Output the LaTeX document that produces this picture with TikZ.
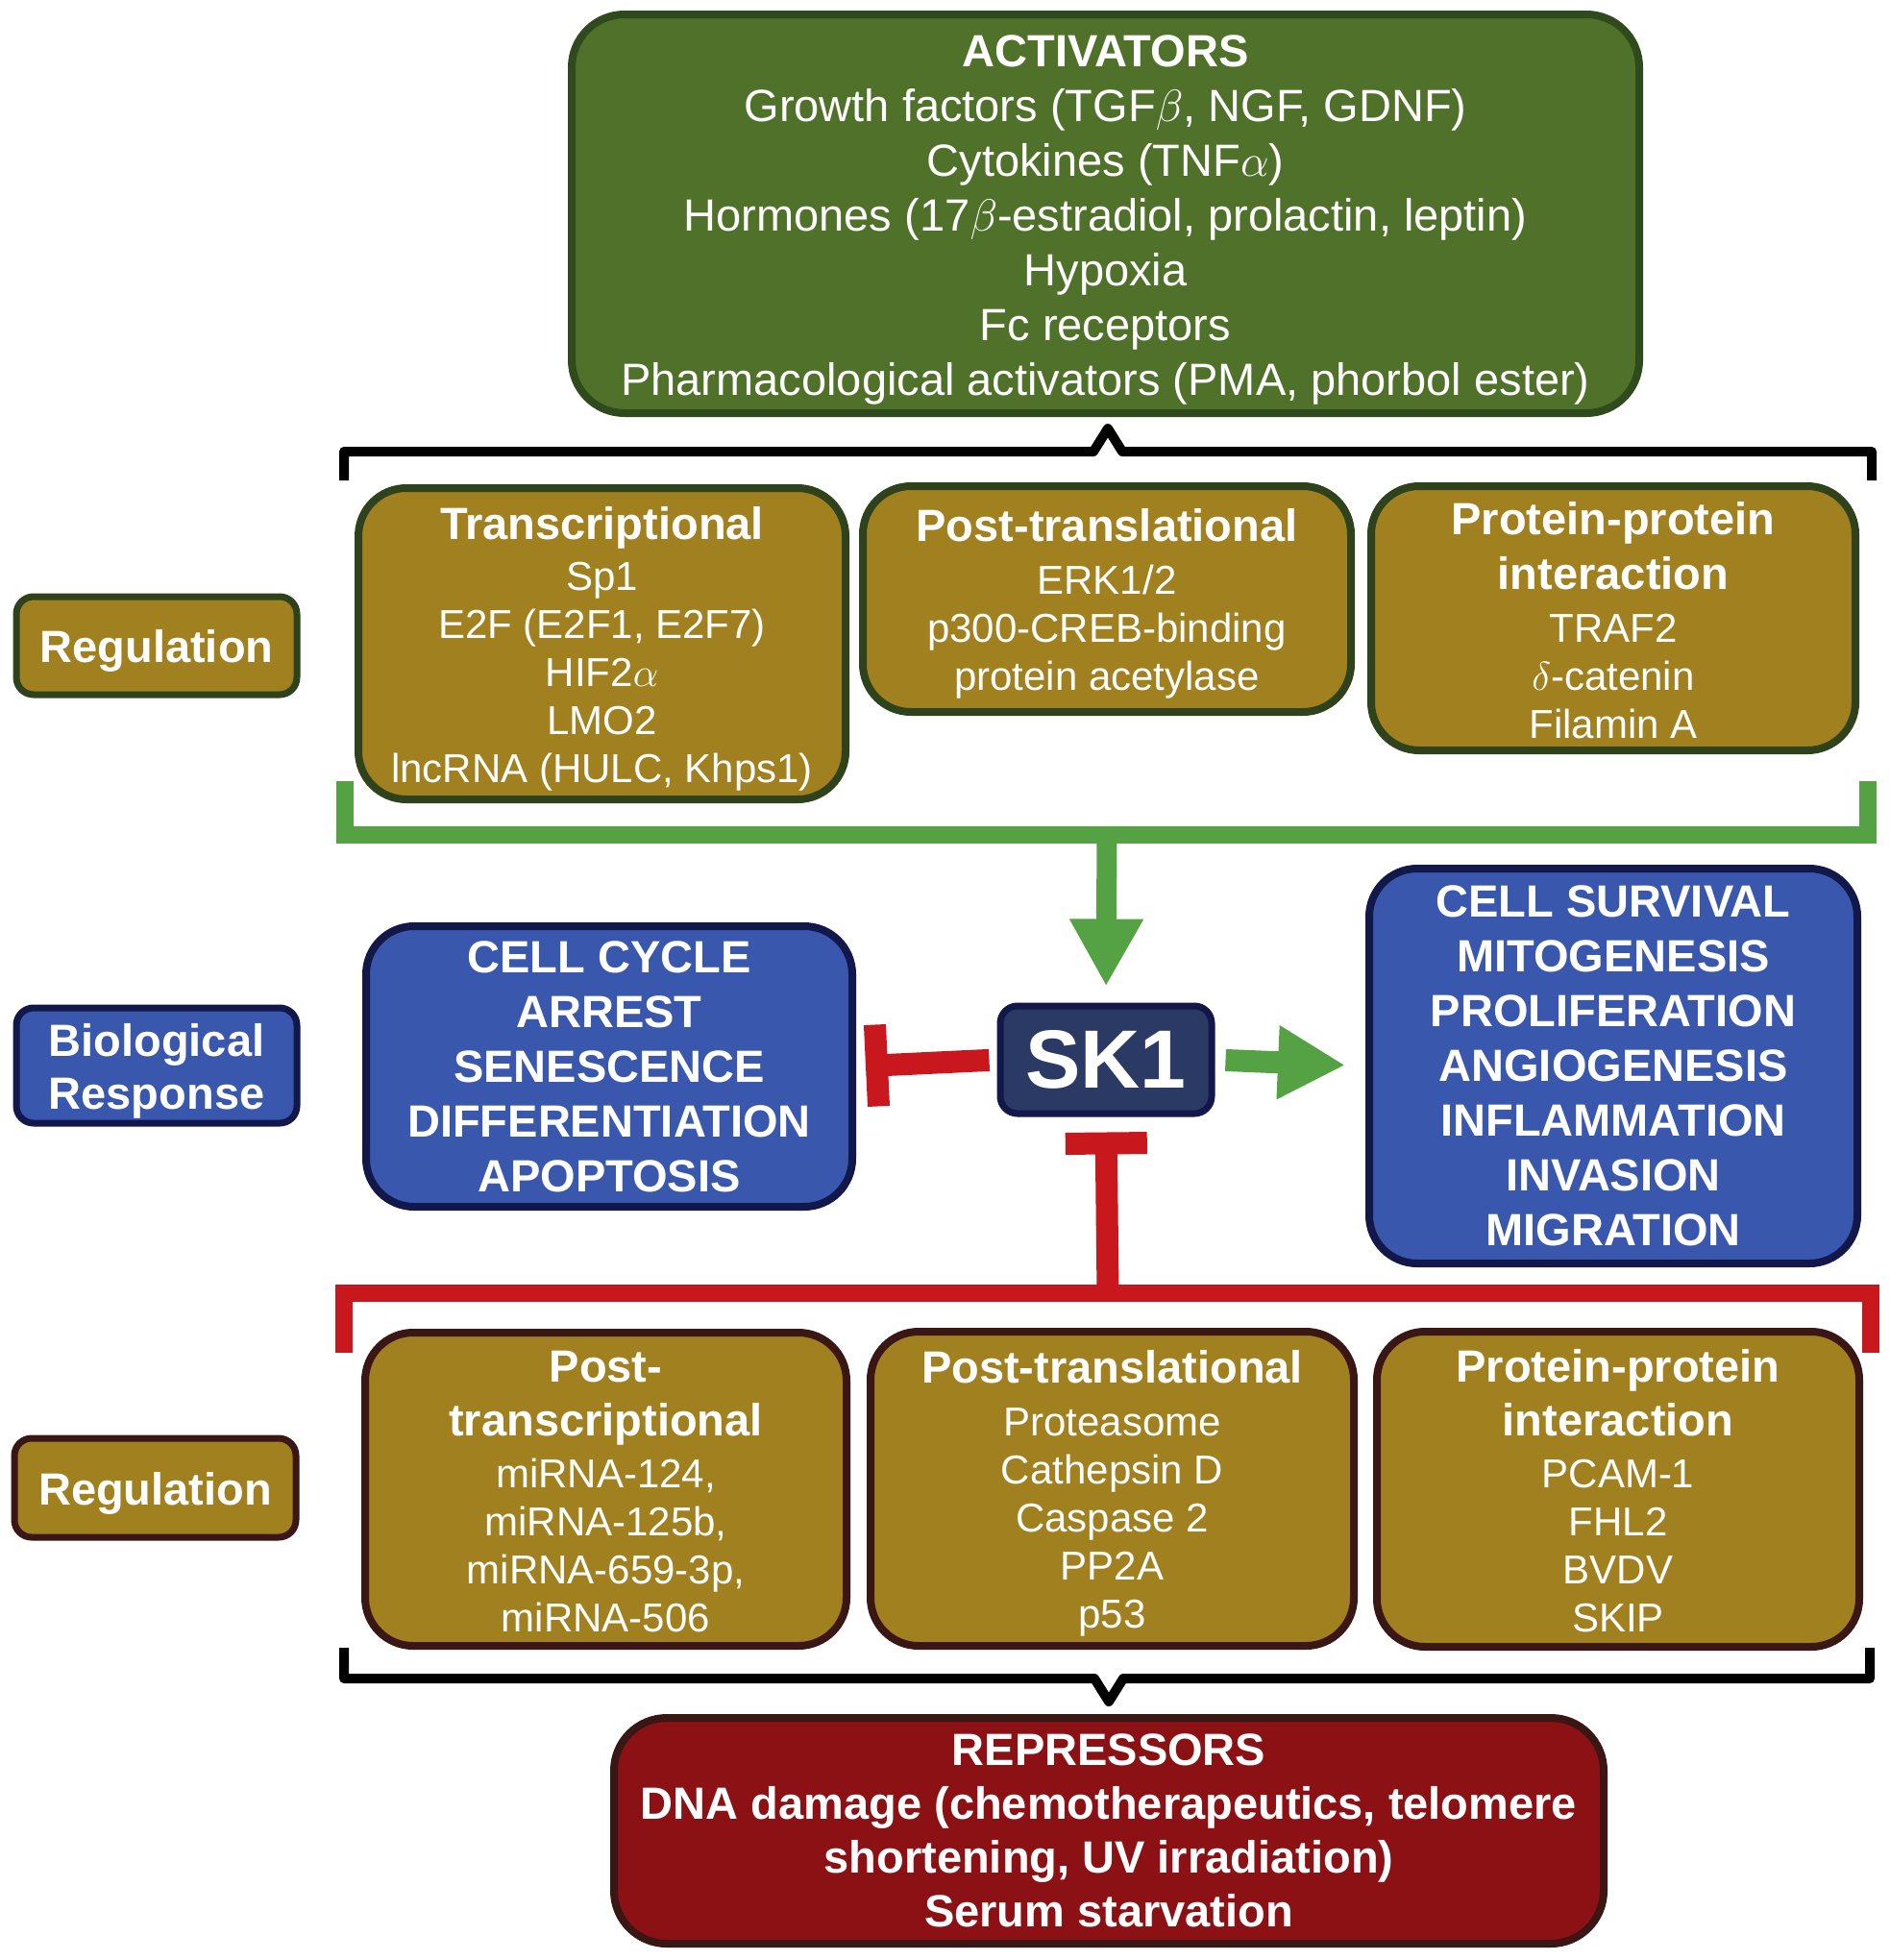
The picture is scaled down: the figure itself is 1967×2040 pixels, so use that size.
\RequirePackage{fix-cm}
\documentclass[tikz,border=0pt]{standalone}
\usepackage{fontspec}
\setmainfont{Liberation Sans}
\usetikzlibrary{arrows.meta}
\definecolor{actgreen}{HTML}{4F7129}
\definecolor{actborder}{HTML}{2F4A1C}
\definecolor{gold}{HTML}{A0801F}
\definecolor{gborder}{HTML}{2E421B}
\definecolor{rborder}{HTML}{3A1714}
\definecolor{bluefill}{HTML}{3A57AE}
\definecolor{blueborder}{HTML}{12184A}
\definecolor{skfill}{HTML}{2A3A64}
\definecolor{arrgreen}{HTML}{54A244}
\definecolor{inhred}{HTML}{C8181D}
\definecolor{repfill}{HTML}{8C1114}
\newcommand\boxhead[1]{{\bfseries\fontsize{47}{50}\selectfont #1}}
\newcommand\tstrut[1]{\rule{0pt}{#1}}
\tikzset{
  basebox/.style={text=white, align=center, inner sep=0pt},
  lbl/.style={basebox, rounded corners=18pt, line width=7pt, font=\bfseries\fontsize{47}{55}\selectfont},
  regbox/.style={basebox, rounded corners=50pt, line width=8pt, fill=gold, font=\fontsize{42}{50}\selectfont},
  bluebox/.style={basebox, rounded corners=50pt, line width=8pt, fill=bluefill, draw=blueborder, font=\bfseries\fontsize{47}{57}\selectfont},
  bigbox/.style={basebox, rounded corners=55pt, line width=8pt},
  brace/.style={line width=10pt, line join=round},
  gbracket/.style={draw=arrgreen, line width=18pt},
  rbracket/.style={draw=inhred, line width=18pt},
  actarrow/.style={draw=arrgreen, fill=arrgreen, -{Triangle[length=70pt,width=72pt]}},
  inharrow/.style={draw=inhred, fill=inhred, line width=23pt, -{Rectangle[length=23pt,width=85pt]}}
}
\begin{document}
\begin{tikzpicture}[x=1pt,y=-1pt]
\useasboundingbox (0,0) rectangle (1967,2040);
\fill[white] (0,0) rectangle (1967,2040);

% Activators
\node[bigbox, fill=actgreen, draw=actborder, minimum width=1111pt, minimum height=415pt,
      font=\fontsize{47}{57}\selectfont] (act) at (1150.5,222.5)
  {\tstrut{46pt}\textbf{ACTIVATORS}\\Growth factors (TGF$\beta$, NGF, GDNF)\\Cytokines (TNF$\alpha$)\\Hormones (17$\beta$-estradiol, prolactin, leptin)\\Hypoxia\\Fc receptors\\Pharmacological activators (PMA, phorbol ester)};

% top brace
\coordinate (tbL) at (358,500);
\coordinate (tbL2) at (358,470);
\coordinate (tbM1) at (1138,470);
\coordinate (tbP) at (1153,446);
\coordinate (tbM2) at (1168,470);
\coordinate (tbR2) at (1948,470);
\coordinate (tbR) at (1948,500);
\draw[brace] (tbL) -- (tbL2) -- (tbM1) -- (tbP) -- (tbM2) -- (tbR2) -- (tbR);

% top regulation row
\node[lbl, fill=gold, draw=gborder, minimum width=292pt, minimum height=102pt] (regtop) at (163,672) {\tstrut{45pt}Regulation};
\node[regbox, draw=gborder, minimum width=507pt, minimum height=324pt] (trans) at (626.5,670)
  {\tstrut{44pt}\boxhead{Transcriptional}\\[3pt]Sp1\\E2F (E2F1, E2F7)\\HIF2$\alpha$\\LMO2\\lncRNA (HULC, Khps1)};
\node[regbox, draw=gborder, minimum width=508pt, minimum height=235pt] (pttop) at (1152,623.5)
  {\tstrut{44pt}\boxhead{Post-translational}\\[5pt]ERK1/2\\p300-CREB-binding\\protein acetylase};
\node[regbox, draw=gborder, minimum width=504pt, minimum height=275pt] (pptop) at (1679,643.5)
  {\tstrut{38pt}\boxhead{Protein-protein}\\[7pt]\boxhead{interaction}\\[5pt]TRAF2\\$\delta$-catenin\\Filamin A};

% green bracket and arrow
\coordinate (gL) at (359,813);
\coordinate (gM) at (1152,869);
\coordinate (gR) at (1944,813);
\draw[gbracket] (gL) |- (gM) -| (gR);

% middle row
\node[lbl, fill=bluefill, draw=blueborder, minimum width=292pt, minimum height=120pt] (bio) at (163,1109) {\tstrut{45pt}Biological\\Response};
\node[bluebox, minimum width=506pt, minimum height=292pt] (lblue) at (634,1110)
  {CELL CYCLE\\ARREST\\SENESCENCE\\DIFFERENTIATION\\APOPTOSIS};
\node[basebox, rounded corners=18pt, line width=7pt, fill=skfill, draw=blueborder, minimum width=220pt, minimum height=112pt,
      font=\bfseries\fontsize{86}{90}\selectfont] (sk1) at (1151,1103) {SK1};
\node[bluebox, minimum width=508pt, minimum height=411pt] (rblue) at (1679,1109.5)
  {CELL SURVIVAL\\MITOGENESIS\\PROLIFERATION\\ANGIOGENESIS\\INFLAMMATION\\INVASION\\MIGRATION};

\draw[actarrow, line width=21pt, shorten >=17pt] (gM) -- (sk1.north);
\draw[actarrow, line width=23pt, shorten <=11pt, shorten >=21pt] (sk1.east) -- (rblue.west);
\draw[inharrow, shorten <=8pt, shorten >=10pt] (sk1.west) -- (lblue.east);

% red bracket
\coordinate (rL) at (358,1408);
\coordinate (rM) at (1153,1346);
\coordinate (rR) at (1947,1408);
\draw[rbracket] (rL) |- (rM) -| (rR);
\draw[inharrow, shorten >=16pt] (rM) -- (sk1.south);

% bottom regulation row
\node[lbl, fill=gold, draw=rborder, minimum width=293pt, minimum height=103pt] (regbot) at (161.5,1548.5) {\tstrut{45pt}Regulation};
\node[regbox, draw=rborder, minimum width=501pt, minimum height=326pt] (ptx) at (630.5,1550)
  {\tstrut{38pt}\boxhead{Post-}\\[6pt]\boxhead{transcriptional}\\[4pt]miRNA-124,\\miRNA-125b,\\miRNA-659-3p,\\miRNA-506};
\node[regbox, draw=rborder, minimum width=503pt, minimum height=327pt] (ptl) at (1157.5,1549.5)
  {\tstrut{44pt}\boxhead{Post-translational}\\[5pt]Proteasome\\Cathepsin D\\Caspase 2\\PP2A\\p53};
\node[regbox, draw=rborder, minimum width=502pt, minimum height=328pt] (ppbot) at (1684,1550)
  {\tstrut{38pt}\boxhead{Protein-protein}\\[6pt]\boxhead{interaction}\\[4pt]PCAM-1\\FHL2\\BVDV\\SKIP};

% bottom brace
\coordinate (bbL) at (358,1715);
\coordinate (bbL2) at (358,1747);
\coordinate (bbM1) at (1139,1747);
\coordinate (bbP) at (1154,1771);
\coordinate (bbM2) at (1169,1747);
\coordinate (bbR2) at (1946,1747);
\coordinate (bbR) at (1946,1715);
\draw[brace] (bbL) -- (bbL2) -- (bbM1) -- (bbP) -- (bbM2) -- (bbR2) -- (bbR);

% repressors
\node[bigbox, fill=repfill, draw=rborder, minimum width=1030pt, minimum height=235pt,
      font=\bfseries\fontsize{47}{56}\selectfont] (rep) at (1154,1905.5)
  {REPRESSORS\\DNA damage (chemotherapeutics, telomere\\shortening, UV irradiation)\\Serum starvation};
\end{tikzpicture}
\end{document}
